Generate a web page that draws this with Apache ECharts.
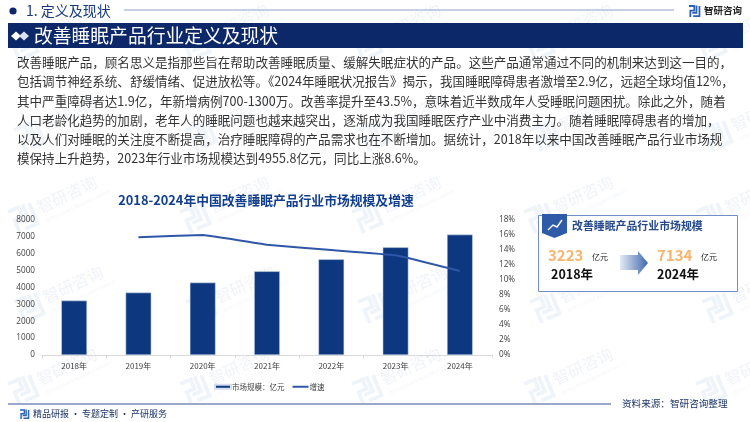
<!DOCTYPE html>
<html><head><meta charset="utf-8">
<style>html,body{margin:0;padding:0;background:#fff}#c{width:750px;height:422px}</style>
<script src="https://cdn.jsdelivr.net/npm/echarts@6/dist/echarts.min.js"></script>
</head><body><div id="c"></div>
<script>
const categories = ['2018年','2019年','2020年','2021年','2022年','2023年','2024年'];
const marketSize = [3223,3700,4290,4960,5670,6380,7134];
const growthRate = [null,15.7,16.0,14.7,14.0,13.3,11.2];
const paragraph = [
 '改善睡眠产品，顾名思义是指那些旨在帮助改善睡眠质量、缓解失眠症状的产品。这些产品通常通过不同的机制来达到这一目的，',
 '包括调节神经系统、舒缓情绪、促进放松等。《2024年睡眠状况报告》揭示，我国睡眠障碍患者激增至2.9亿，远超全球均值12%，',
 '其中严重障碍者达1.9亿，年新增病例700-1300万。改善率提升至43.5%，意味着近半数成年人受睡眠问题困扰。除此之外，随着',
 '人口老龄化趋势的加剧，老年人的睡眠问题也越来越突出，逐渐成为我国睡眠医疗产业中消费主力。随着睡眠障碍患者的增加，',
 '以及人们对睡眠的关注度不断提高，治疗睡眠障碍的产品需求也在不断增加。据统计，2018年以来中国改善睡眠产品行业市场规',
 '模保持上升趋势，2023年行业市场规模达到4955.8亿元，同比上涨8.6%。'
];
const FONT = '"Noto Sans CJK SC","Noto Sans",sans-serif';
const NAVY = '#0c2869', BAR = '#0d3880', LINE = '#2f57a7';
const g = [];
const txt = (x,y,text,fontSize,fill,extra={}) => g.push({type:'text',x,y,z:extra.z||5,silent:true,
  style:{text,fontSize,fill,fontFamily:extra.family||FONT,fontWeight:extra.w||'normal',align:extra.align||'left',verticalAlign:'middle'}});
const rect = (x,y,w,h,fill,z=5,extra={}) => g.push({type:'rect',x,y,z,silent:true,shape:{width:w,height:h,r:extra.r||0},style:{fill,stroke:extra.stroke,lineWidth:extra.lw||0}});
const logo = (x,y,s,c,z,rot=0) => {
  g.push({type:'group',x,y,rotation:rot,z,silent:true,children:[
    {type:'polyline',z,shape:{points:[[0,0],[s*.48,0],[s*.48,s*.42],[s*.12,s*.42],[s*.12,s]]},style:{fill:'none',stroke:c,lineWidth:s*.16}},
    {type:'polyline',z,shape:{points:[[s*.68,-s*.05],[s*.68,s*.62],[s*.3,s*.62]]},style:{fill:'none',stroke:c,lineWidth:s*.16}},
    {type:'polyline',z,shape:{points:[[s*.95,0],[s*.95,s*.92],[s*.38,s*.92]]},style:{fill:'none',stroke:c,lineWidth:s*.16}}
  ]});
};
// watermark tiles
for (let j=-2;j<=2;j++) for (let i=0;i<5;i++){
  const bx=8+172*i+(j%2?6:0), by=212+86*j+(j%2?4:0);
  logo(bx,by,24,'#eff4fa',0,0.4);
  g.push({type:'text',x:bx+30,y:by-4,z:0,rotation:0.44,silent:true,style:{text:'智研咨询',fontSize:16,fill:'#f0f3f8',fontFamily:FONT,verticalAlign:'middle'}});
  g.push({type:'text',x:bx+38,y:by+9,z:0,rotation:0.44,silent:true,style:{text:'INTELLIGENCE RESEARCH GROUP',fontSize:4.5,fill:'#f1f4f9',fontFamily:FONT,verticalAlign:'middle'}});
}
// header
g.push({type:'circle',x:13,y:11,z:5,silent:true,shape:{r:3.6},style:{fill:NAVY}});
txt(26,11,'1. 定义及现状',14,'#163a7d');
rect(124,9.5,550,1,'#8fa3cc');
logo(689,6,11,'#2a62b8',5);
txt(704,10,'智研咨询',9.5,'#222',{w:'bold'});
rect(8,23,735,25,NAVY);
g.push({type:'polygon',z:6,silent:true,shape:{points:[[11,36],[16,31.5],[21,36],[16,40.5]]},style:{fill:'#fff'}});
g.push({type:'polygon',z:6,silent:true,shape:{points:[[19,36],[24,31.5],[29,36],[24,40.5]]},style:{fill:'#dbe3f2'}});
txt(34,36,'改善睡眠产品行业定义及现状',18.8,'#fff');
// paragraph
paragraph.forEach((l,i)=>txt(17,62.5+i*19.2,l,12.55,'#333'));
// chart title
txt(266,200,'2018-2024年中国改善睡眠产品行业市场规模及增速',12.8,'#123f8c',{w:'bold',align:'center'});
// card
rect(538.5,215.5,199,76,'#fff',3,{stroke:'#6f8fc6',lw:1});
g.push({type:'polygon',z:5,silent:true,shape:{points:[[542,214],[567,214],[567,233],[554.5,238],[542,233]]},style:{fill:'#2e5ba8'}});
g.push({type:'polyline',z:6,silent:true,shape:{points:[[548,230],[553,225],[557,227],[562,220]]},style:{fill:'none',stroke:'#fff',lineWidth:1.4}});
txt(572,226,'改善睡眠产品行业市场规模',10.9,'#274a8a',{w:'bold'});
txt(548,255,'3223',15,'#f9b46e',{w:'bold'});
txt(592,257,'亿元',8,'#222');
txt(551,274,'2018年',12.5,'#111',{w:'bold'});
g.push({type:'polygon',z:5,silent:true,shape:{points:[[620,255],[638,255],[638,251],[648,263],[638,275],[638,270],[620,270]]},
  style:{fill:{type:'linear',x:0,y:0,x2:1,y2:0,colorStops:[{offset:0,color:'#e4eaf5'},{offset:1,color:'#3f68ae'}]}}});
txt(657,255,'7134',15,'#f9b46e',{w:'bold'});
txt(701,257,'亿元',8,'#222');
txt(657,274,'2024年',12.5,'#111',{w:'bold'});
// footer
rect(8,403,603,2,'#9aa8cc');
logo(20,410,9,'#2a62b8',5);
txt(33,414,'精品研报 · 专题定制 · 产研服务',9,'#1c3468');
txt(622,403,'资料来源：智研咨询整理',9.6,'#1c3468');

const chart = echarts.init(document.getElementById('c'),null,{renderer:'canvas'});
chart.setOption({
  animation:false,
  backgroundColor:'#fff',
  textStyle:{fontFamily:FONT},
  graphic:{elements:g},
  grid:{left:42,right:258,top:220,bottom:67,containLabel:false},
  legend:{left:209,top:378,itemWidth:16,itemHeight:4,itemGap:7,
    textStyle:{fontSize:7.5,color:'#404040',fontFamily:FONT,padding:[0,0,0,-4]},
    data:[{name:'市场规模：亿元',icon:'rect'},{name:'增速',itemStyle:{opacity:0}}]},
  xAxis:{type:'category',data:categories,
    axisLine:{lineStyle:{color:'#d9d9d9'}},axisTick:{show:true,length:3,lineStyle:{color:'#d9d9d9'}},
    axisLabel:{fontSize:8,color:'#404040',margin:7}},
  yAxis:[
    {type:'value',min:0,max:8000,interval:1000,splitLine:{show:false},axisLine:{show:false},axisTick:{show:false},
     axisLabel:{fontSize:8.2,color:'#404040',margin:7,formatter:v=>String(v),fontFamily:'"Open Sans",sans-serif'}},
    {type:'value',min:0,max:18,interval:2,splitLine:{show:false},axisLine:{show:false},axisTick:{show:false},
     axisLabel:{fontSize:8.2,color:'#404040',margin:7,formatter:'{value}%',fontFamily:'"Open Sans",sans-serif'}}
  ],
  series:[
    {name:'市场规模：亿元',type:'bar',data:marketSize,barWidth:'40%',itemStyle:{color:BAR,borderColor:'#d5deee',borderWidth:0.5},z:3},
    {name:'增速',type:'line',yAxisIndex:1,data:growthRate,symbol:'none',smooth:0.08,lineStyle:{color:LINE,width:2},itemStyle:{color:LINE},z:4}
  ]
});
</script></body></html>
